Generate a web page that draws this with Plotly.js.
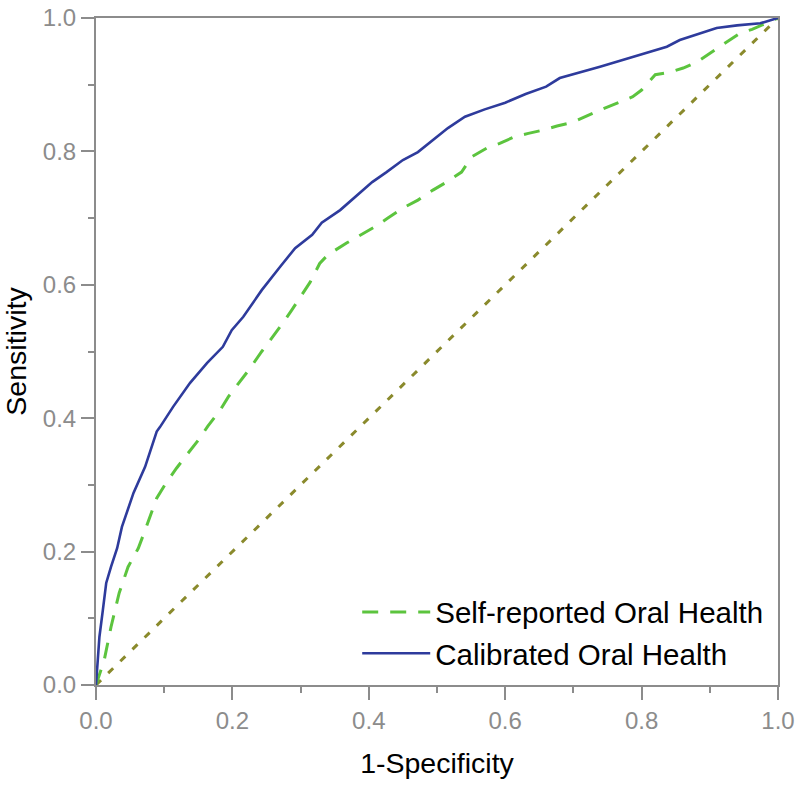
<!DOCTYPE html>
<html>
<head>
<meta charset="utf-8">
<script src="https://cdn.plot.ly/plotly-3.0.1.min.js"></script>
<style>html,body{margin:0;padding:0;background:#fff;}#chart{width:800px;height:788px;}</style>
</head>
<body>
<div id="chart"></div>
<script>
const calibratedX = [0,0.002,0.005,0.01,0.015,0.022,0.031,0.038,0.055,0.072,0.089,0.094,0.113,0.138,0.163,0.186,0.199,0.216,0.243,0.27,0.292,0.317,0.331,0.358,0.384,0.405,0.426,0.45,0.472,0.49,0.516,0.541,0.57,0.6,0.63,0.66,0.68,0.739,0.8,0.837,0.856,0.91,0.94,0.974,1];
const calibratedY = [0,0.035,0.072,0.112,0.153,0.177,0.205,0.237,0.288,0.327,0.38,0.387,0.417,0.453,0.483,0.507,0.532,0.552,0.592,0.627,0.655,0.675,0.693,0.712,0.735,0.754,0.769,0.787,0.799,0.814,0.835,0.852,0.863,0.873,0.886,0.897,0.91,0.927,0.946,0.957,0.967,0.985,0.989,0.992,1];

const selfX = [0,0.012,0.022,0.034,0.047,0.062,0.072,0.079,0.089,0.101,0.118,0.133,0.15,0.164,0.182,0.194,0.211,0.226,0.243,0.258,0.275,0.287,0.304,0.314,0.328,0.34,0.368,0.384,0.409,0.428,0.45,0.472,0.494,0.514,0.536,0.551,0.573,0.592,0.614,0.634,0.656,0.676,0.7,0.739,0.787,0.8,0.82,0.839,0.861,0.881,0.9,0.92,0.944,0.962,1];
const selfY = [0,0.037,0.087,0.138,0.177,0.205,0.232,0.252,0.28,0.3,0.325,0.345,0.367,0.388,0.412,0.432,0.454,0.475,0.5,0.52,0.544,0.562,0.588,0.604,0.632,0.645,0.663,0.672,0.687,0.7,0.715,0.727,0.742,0.754,0.769,0.792,0.805,0.812,0.822,0.827,0.832,0.838,0.844,0.862,0.882,0.892,0.915,0.918,0.925,0.934,0.947,0.96,0.977,0.983,1];

const refX = [0,1];
const refY = [0,1];

const seriesNames = ["Self-reported Oral Health", "Calibrated Oral Health"];
const xTitle = "1-Specificity";
const yTitle = "Sensitivity";

const axisGrey = "#8c8c8c";
const fontFam = "Liberation Sans, Arial, sans-serif";

const traces = [
  {x: refX, y: refY, mode: "lines", showlegend: false, hoverinfo: "skip",
   line: {color: "#8a8a2c", width: 3, dash: "7px,10px"}},
  {x: selfX, y: selfY, mode: "lines", name: seriesNames[0],
   line: {color: "#5cc43e", width: 3, dash: "16px,12px"}},
  {x: calibratedX, y: calibratedY, mode: "lines", name: seriesNames[1],
   line: {color: "#2e3b9c", width: 2.6}}
];

function axis(title, standoff) {
  return {
    range: [0, 1], showgrid: false, zeroline: false,
    showline: true, linecolor: axisGrey, linewidth: 2, mirror: true,
    ticks: "outside", ticklen: 13, tickwidth: 2, tickcolor: axisGrey,
    dtick: 0.2, tick0: 0, tickformat: ".1f",
    tickfont: {family: fontFam, size: 24, color: axisGrey},
    minor: {dtick: 0.1, ticks: "outside", ticklen: 6, tickwidth: 2, tickcolor: axisGrey, showgrid: false},
    title: {text: title, font: {family: fontFam, size: 28.5, color: "#000"}, standoff: standoff}
  };
}

const layout = {
  width: 800, height: 788,
  margin: {l: 96, r: 22, t: 18, b: 103},
  paper_bgcolor: "#fff", plot_bgcolor: "#fff",
  font: {family: fontFam},
  xaxis: axis(xTitle, 20),
  yaxis: axis(yTitle, 12),
  showlegend: true,
  legend: {
    x: 0.383, xanchor: "left", y: 0.148, yanchor: "top",
    bgcolor: "rgba(0,0,0,0)", borderwidth: 0,
    font: {family: fontFam, size: 29.5, color: "#000"},
    itemwidth: 68, tracegroupgap: 0
  }
};

Plotly.newPlot("chart", traces, layout, {displayModeBar: false, staticPlot: true});
</script>
</body>
</html>
